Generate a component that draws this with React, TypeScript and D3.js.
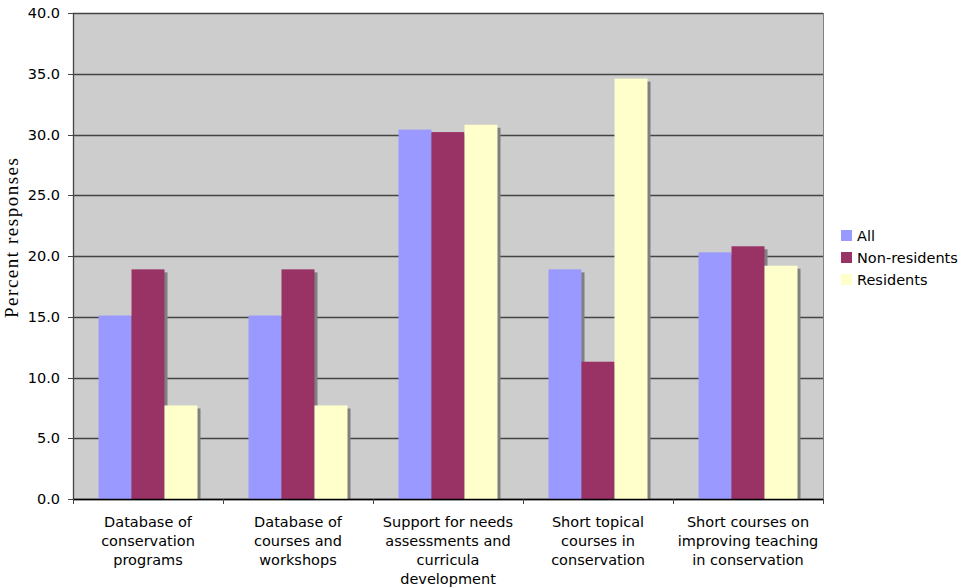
import React from "react";
import * as d3 from "d3";

const categories: string[][] = [
  ["Database of", "conservation", "programs"],
  ["Database of", "courses and", "workshops"],
  ["Support for needs", "assessments and", "curricula", "development"],
  ["Short topical", "courses in", "conservation"],
  ["Short courses on", "improving teaching", "in conservation"],
];
const seriesNames = ["All", "Non-residents", "Residents"];
const allValues = [15.1, 15.1, 30.4, 18.9, 20.3];
const nonResValues = [18.9, 18.9, 30.2, 11.3, 20.8];
const resValues = [7.7, 7.7, 30.8, 34.6, 19.2];
const yTicks = [0, 5, 10, 15, 20, 25, 30, 35, 40];
const colors = ["#9999FF", "#993366", "#FFFFCC"];

export default function App() {
  const left = 73, right = 823, top = 13, bottom = 499;
  const series = [allValues, nonResValues, resValues];
  const y = d3.scaleLinear().domain([0, 40]).range([bottom, top]);
  const x0 = d3.scaleBand<number>().domain(d3.range(categories.length)).range([left, right]).paddingInner(0).paddingOuter(0);
  const bw = 33;
  const groupW = bw * 3;
  const font = "'DejaVu Sans', Verdana, sans-serif";
  const fs = 14.5;
  return (
    <svg width={960} height={588} style={{ position: "absolute", left: 0, top: 0 }}>
      <rect x={0} y={0} width={960} height={588} fill="#fff" />
      <rect x={left} y={top} width={right - left} height={bottom - top} fill="#CDCDCD" />
      {yTicks.map((t) => (
        <g key={t}>
          <line x1={left} x2={right} y1={Math.round(y(t)) + 0.5} y2={Math.round(y(t)) + 0.5} stroke="#444" strokeWidth={1.3} />
          <line x1={left - 5} x2={left} y1={Math.round(y(t)) + 0.5} y2={Math.round(y(t)) + 0.5} stroke="#444" />
          <text x={60} y={y(t) + 5} textAnchor="end" fontFamily={font} fontSize={fs} fill="#000">
            {t.toFixed(1)}
          </text>
        </g>
      ))}
      <line x1={right + 0.5} x2={right + 0.5} y1={top} y2={bottom} stroke="#808080" />
      {categories.map((c, i) => {
        const gx = (x0(i) as number) + (x0.bandwidth() - groupW) / 2;
        return (
          <g key={i}>
            {series.map((s, j) => (
              <rect key={"s" + j} x={gx + j * bw + 3} y={y(s[i]) + 3} width={bw} height={bottom - y(s[i]) - 3} fill="#808080" />
            ))}
            {series.map((s, j) => (
              <rect key={"b" + j} x={gx + j * bw} y={y(s[i])} width={bw} height={bottom - y(s[i])} fill={colors[j]} />
            ))}
          </g>
        );
      })}
      <line x1={left + 0.5} x2={left + 0.5} y1={top} y2={bottom} stroke="#444" strokeWidth={1.3} />
      <line x1={left} x2={right} y1={bottom + 0.5} y2={bottom + 0.5} stroke="#000" strokeWidth={1.3} />
      {d3.range(categories.length + 1).map((i) => {
        const xx = left + i * x0.bandwidth();
        return <line key={i} x1={xx + 0.5} x2={xx + 0.5} y1={bottom} y2={bottom + 5} stroke="#444" />;
      })}
      {categories.map((c, i) => {
        const cx = (x0(i) as number) + x0.bandwidth() / 2;
        return (
          <text key={i} textAnchor="middle" fontFamily={font} fontSize={fs} fill="#000">
            {c.map((line, k) => (
              <tspan key={k} x={cx} y={527 + k * 19}>
                {line}
              </tspan>
            ))}
          </text>
        );
      })}
      <text transform={`translate(18,238) rotate(-90)`} textAnchor="middle" textLength={160} lengthAdjust="spacing" fontFamily="'Liberation Serif', 'Times New Roman', serif" fontSize={19} fill="#000">
        Percent responses
      </text>
      {seriesNames.map((n, j) => (
        <g key={n}>
          <rect x={841} y={230 + j * 22} width={11} height={11} fill={colors[j]} />
          <text x={857} y={241 + j * 22} fontFamily={font} fontSize={fs} fill="#000">
            {n}
          </text>
        </g>
      ))}
    </svg>
  );
}
